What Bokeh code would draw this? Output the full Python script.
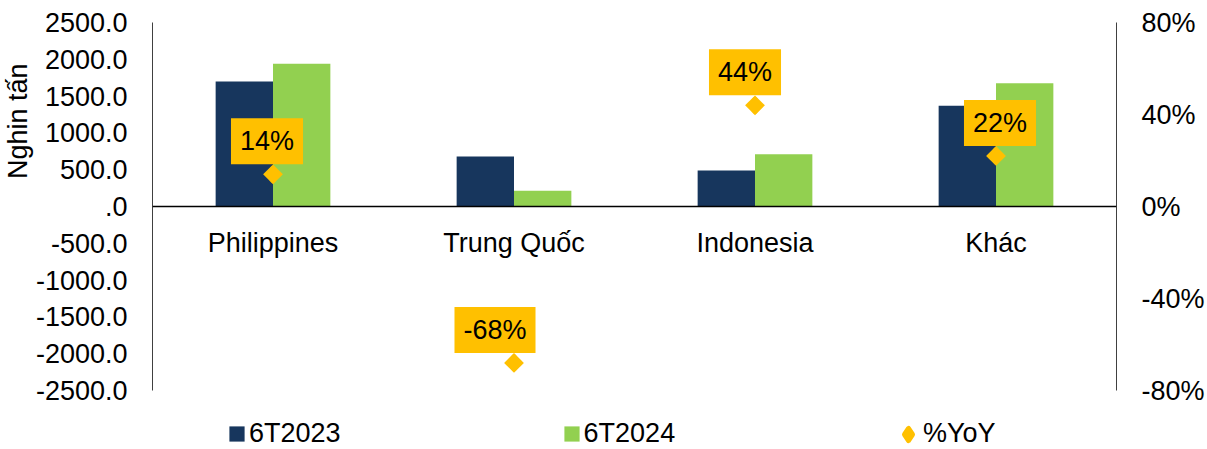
import math
from bokeh.plotting import figure
from bokeh.models import (FactorRange, Range1d, LinearAxis, FixedTicker, CustomJSTickFormatter,
                          NumeralTickFormatter, Span, Legend, LegendItem, Title, ColumnDataSource)
from bokeh.transform import dodge
from bokeh.core.properties import value
from bokeh.embed import file_html
from bokeh.resources import INLINE

# ---- data ----
categories = ["Philippines", "Trung Quốc", "Indonesia", "Khác"]
vol_2023 = [1700, 680, 490, 1370]
vol_2024 = [1940, 213, 710, 1675]
yoy = [0.14, -0.68, 0.44, 0.22]
yoy_labels = ["14%", "-68%", "44%", "22%"]
left_ticks = [-2500, -2000, -1500, -1000, -500, 0, 500, 1000, 1500, 2000, 2500]
right_ticks = [-0.8, -0.4, 0.0, 0.4, 0.8]
series_names = ["6T2023", "6T2024", "%YoY"]
y_title = "Nghin tấn"

# label nudges (style, screen px)
label_dx = [-6, -19, -10, 4]

NAVY = "#17365D"
GREEN = "#92D050"
GOLD = "#FFC000"
FONT = "Liberation Sans"
FS = "27px"

# Axis extents: the value axes cover -2500..2500 (and -80%..80%) over 368 px;
# the frame extends further down to make room for the legend.
FRAME_TOP, AXIS_BOTTOM, FRAME_BOTTOM = 22, 390, 449
ext = (FRAME_BOTTOM - FRAME_TOP) / (AXIS_BOTTOM - FRAME_TOP)
left_lo = left_ticks[-1] - (left_ticks[-1] - left_ticks[0]) * ext
right_lo = right_ticks[-1] - (right_ticks[-1] - right_ticks[0]) * ext

src = ColumnDataSource(dict(cat=categories, v23=vol_2023, v24=vol_2024, yoy=yoy,
                            lab=yoy_labels, dx=label_dx, zero=[0]*len(categories)))

p = figure(width=1207, height=449, x_range=FactorRange(*categories, range_padding=0),
           y_range=Range1d(left_lo, left_ticks[-1]), output_backend="svg", toolbar_location=None,
           min_border_left=151, min_border_right=91, min_border_top=FRAME_TOP, min_border_bottom=0)
p.extra_y_ranges = {"pct": Range1d(right_lo, right_ticks[-1])}
p.xaxis.visible = False
p.xgrid.grid_line_color = None
p.ygrid.grid_line_color = None
p.outline_line_color = None
p.background_fill_color = "white"
p.border_fill_color = "white"

r23 = p.vbar(x=dodge("cat", -0.119, range=p.x_range), top="v23", width=0.238, source=src,
             fill_color=NAVY, line_color=None)
r24 = p.vbar(x=dodge("cat", 0.119, range=p.x_range), top="v24", width=0.238, source=src,
             fill_color=GREEN, line_color=None)

p.add_layout(Span(location=0, dimension="width", line_color="black", line_width=1.5))

# hidden-under diamond (used for the legend swatch) + visible rotated-square diamond
ry_leg = p.scatter(x="cat", y="yoy", y_range_name="pct", source=src, marker="diamond",
                   size=12, fill_color=GOLD, line_color=GOLD, line_width=5, line_join="round")
ry = p.scatter(x="cat", y="yoy", y_range_name="pct", source=src, marker="square",
               angle=math.pi / 4, size=14, fill_color=GOLD, line_color=None)

p.text(x="cat", y="yoy", text="lab", y_range_name="pct", source=src,
       x_offset="dx", y_offset=-33, text_align="center", text_baseline="middle",
       text_font=value(FONT), text_font_size=FS, text_color="black",
       background_fill_color=GOLD, padding=(9, 8))

# category labels at zero line
p.text(x="cat", y="zero", text="cat", source=src, y_offset=36,
       text_align="center", text_baseline="alphabetic",
       text_font=value(FONT), text_font_size=FS, text_color="black")

# left axis
ax = p.yaxis[0]
ax.bounds = (left_ticks[0], left_ticks[-1])
ax.ticker = FixedTicker(ticks=left_ticks)
ax.formatter = CustomJSTickFormatter(code="return tick == 0 ? '.0' : tick.toFixed(1);")
ax.major_tick_line_color = None
ax.minor_tick_line_color = None
ax.major_tick_out = 0
ax.major_tick_in = 0
ax.major_label_standoff = 25
ax.major_label_text_font = FONT
ax.major_label_text_font_size = FS
ax.major_label_text_color = "black"
ax.axis_line_color = "#404040"

# right axis
rax = LinearAxis(y_range_name="pct", ticker=FixedTicker(ticks=right_ticks),
                 formatter=NumeralTickFormatter(format="0%"),
                 bounds=(right_ticks[0], right_ticks[-1]))
rax.major_tick_line_color = None
rax.minor_tick_line_color = None
rax.major_tick_out = 0
rax.major_tick_in = 0
rax.major_label_standoff = 25
rax.major_label_text_font = FONT
rax.major_label_text_font_size = FS
rax.major_label_text_color = "black"
rax.axis_line_color = "#404040"
p.add_layout(rax, "right")

# y title
p.add_layout(Title(text=y_title, align="right", offset=41, standoff=0, text_font=FONT,
                   text_font_size=FS, text_font_style="normal", text_color="black"), "left")

# legends (inside the extended frame, below the axes)
leg1 = Legend(items=[LegendItem(label=series_names[0], renderers=[r23]),
                     LegendItem(label=series_names[1], renderers=[r24])],
              orientation="horizontal", location=(75, 0), glyph_width=19, glyph_height=19,
              label_standoff=3, spacing=221, padding=0, margin=0,
              label_text_font=FONT, label_text_font_size=FS, label_text_color="black",
              border_line_color=None, background_fill_alpha=0)
leg2 = Legend(items=[LegendItem(label=series_names[2], renderers=[ry_leg])],
              orientation="horizontal", location=(741, 0), glyph_width=30, glyph_height=30,
              label_standoff=0, padding=0, margin=0,
              label_text_font=FONT, label_text_font_size=FS, label_text_color="black",
              border_line_color=None, background_fill_alpha=0)
p.add_layout(leg1)
p.add_layout(leg2)

open("out.html", "w").write(file_html(p, INLINE))
